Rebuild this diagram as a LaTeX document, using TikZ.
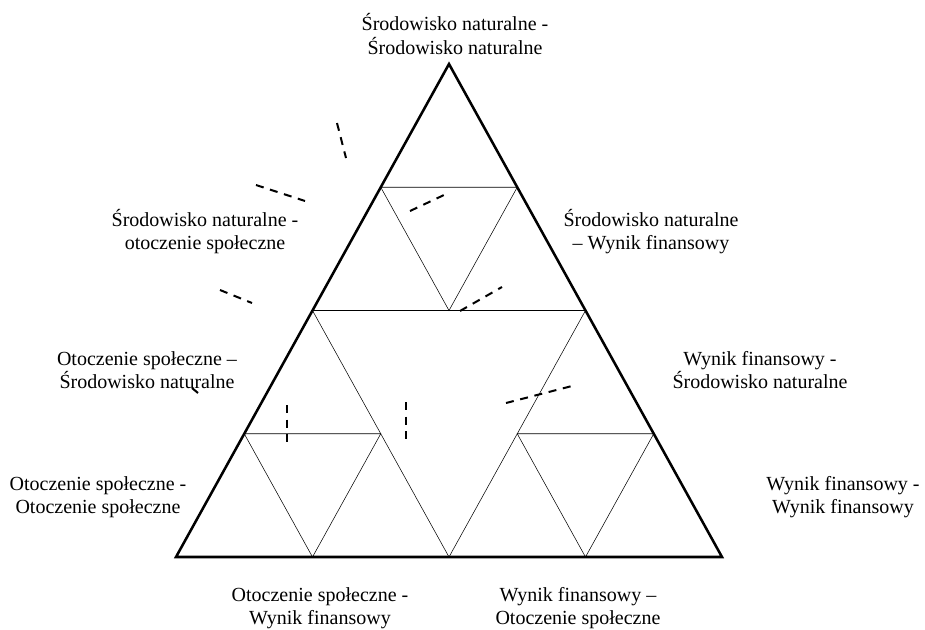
\documentclass[tikz,border=0pt]{standalone}
\usepackage{fontspec}
\setmainfont{Liberation Serif}
\usetikzlibrary{calc}
\tikzset{
  lbl/.style={align=center,font=\fontsize{15}{17.3}\selectfont,inner sep=0pt},
  kreska/.style={line width=1.5pt,dash pattern=on 6pt off 5pt},
}
\begin{document}
\begin{tikzpicture}[x=0.75pt,y=-0.75pt]
\useasboundingbox (0,0) rectangle (925,629);
%wierzcholki
\coordinate (A) at (176,557);
\coordinate (B) at (722,557);
\coordinate (C) at (449,64);
\coordinate (AC) at ($(A)!0.5!(C)$);
\coordinate (BC) at ($(B)!0.5!(C)$);
\coordinate (AB) at ($(A)!0.5!(B)$);
%trojkaty
\draw[line width=1.9pt] (A) -- (B) -- (C) -- cycle;
\draw (AC) -- (BC) -- (AB) -- cycle;
\draw ($(AC)!0.5!(C)$) -- ($(BC)!0.5!(C)$) -- ($(AC)!0.5!(BC)$) -- cycle;
\draw ($(A)!0.5!(AC)$) -- ($(AC)!0.5!(AB)$) -- ($(A)!0.5!(AB)$) -- cycle;
\draw ($(BC)!0.5!(B)$) -- ($(BC)!0.5!(AB)$) -- ($(AB)!0.5!(B)$) -- cycle;
%kreski
\draw[kreska] (337,123) -- (346,158);
\draw[kreska] (256,185) -- (305,201);
\draw[kreska] (410,211) -- (444,195);
\draw[kreska] (220,290) -- (252,303);
\draw[kreska] (460,311) -- (502,287);
\draw[kreska] (506,403) -- (572,386);
\draw[kreska] (192,388) -- (198,393);
\draw[kreska] (287,405) -- (287,443);
\draw[kreska] (406,402) -- (406,440);
%Text
\node[lbl] (t1) at (455,34) {Środowisko naturalne -\\Środowisko naturalne};
\node[lbl] (t2) at (205,232) {Środowisko naturalne -\\otoczenie społeczne};
\node[lbl] (t3) at (651,232) {Środowisko naturalne\\– Wynik finansowy};
\node[lbl] (t4) at (147,370) {Otoczenie społeczne –\\Środowisko naturalne};
\node[lbl] (t5) at (760,370) {Wynik finansowy -\\Środowisko naturalne};
\node[lbl] (t6) at (98,497) {Otoczenie społeczne -\\Otoczenie społeczne};
\node[lbl] (t7) at (843,497) {Wynik finansowy -\\Wynik finansowy};
\node[lbl] (t8) at (320,608) {Otoczenie społeczne -\\Wynik finansowy};
\node[lbl] (t9) at (578,608) {Wynik finansowy –\\Otoczenie społeczne};
\end{tikzpicture}
\end{document}
